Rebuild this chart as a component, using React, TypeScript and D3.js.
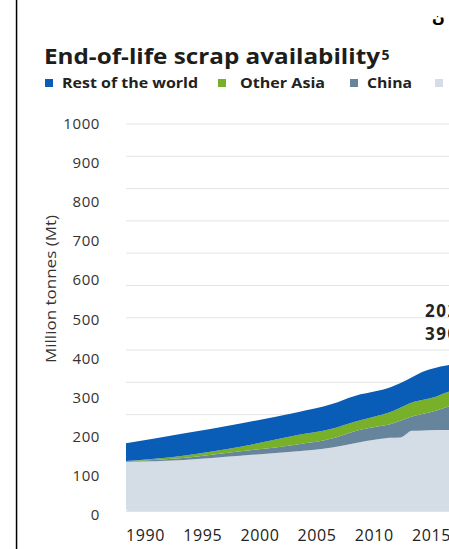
import * as d3 from 'd3'

// end-of-life scrap by region, Mt
const years = [1990, 1995, 2000, 2005, 2008, 2010, 2012, 2013, 2014, 2015, 2016, 2017, 2018, 2019, 2020]
const developed = [128, 133, 144, 155, 165, 176, 186, 190, 191, 208, 209, 210, 210, 211, 212]
const china = [2, 5, 11, 18, 23, 31, 33, 34, 43, 37, 43, 49, 59, 64, 68]
const otherAsia = [0, 6, 12, 24, 25, 24, 28, 31, 34, 36, 36, 36, 38, 38, 38]
const restOfWorld = [46, 57, 60, 59, 64, 67, 64, 64, 63, 65, 73, 75, 69, 70, 72]

const yTicks = [0, 100, 200, 300, 400, 500, 600, 700, 800, 900, 1000]
const xTicks = [1990, 1995, 2000, 2005, 2010, 2015]
const gridSteps = 12

const legendItems = [
  { key: 'rest', label: 'Rest of the world', color: '#0a5db6' },
  { key: 'otherAsia', label: 'Other Asia', color: '#78b02a' },
  { key: 'china', label: 'China', color: '#66849b' },
  { key: 'developed', label: 'Developed world', color: '#d4dce5' },
]

const callout = ['2020', '390 Mt']
const cornerGlyph = 'ن'

const W = 449
const H = 549
const font = "'Open Sans', sans-serif"

export default function App() {
  const x = d3.scaleLinear().domain([1990, 2015]).range([126, 412])
  const y = d3.scaleLinear().domain([0, 1000]).range([511.5, 123.5])
  // tick labels sit a touch lower than the plot scale in the source
  const yLabel = d3.scaleLinear().domain([0, 1000]).range([515, 123.3])
  const grid = d3.scaleLinear().domain([0, gridSteps]).range([511.5, 124])

  const rows = years.map((yr, i) => ({
    year: yr,
    developed: developed[i],
    china: china[i],
    otherAsia: otherAsia[i],
    rest: restOfWorld[i],
  }))
  const keys = ['developed', 'china', 'otherAsia', 'rest']
  const series = d3.stack<any>().keys(keys)(rows)
  const colorOf = (k: string) => legendItems.find((l) => l.key === k)!.color

  const area = d3
    .area<any>()
    .x((d) => x(d.data.year))
    .y0((d) => y(d[0]))
    .y1((d) => y(d[1]))
    .curve(d3.curveMonotoneX)

  // legend layout (source image is slightly stretched horizontally)
  const legendSquareX = [45, 218, 350, 435]
  const legendTextX = [62, 240, 367, 452]
  const legendTextLen = [136, 85, 45, 0]

  return (
    <svg width={W} height={H} style={{ position: 'absolute', left: 0, top: 0 }} fontFamily={font}>
      <rect width={W} height={H} fill="#fff" />
      <rect x={15.8} y={0} width={1.5} height={H} fill="#000" />

      <text x={432} y={23} fontFamily="'DejaVu Sans', sans-serif" fontWeight="bold" fontSize={15} fill="#000">
        {cornerGlyph}
      </text>

      <text x={44} y={64} fontSize={22} fontWeight="bold" fill="#1d1d1b" textLength={336} lengthAdjust="spacingAndGlyphs">
        End-of-life scrap availability
      </text>
      <text x={381.5} y={60} fontSize={14} fontWeight="bold" fill="#1d1d1b">
        5
      </text>

      {legendItems.map((l, i) => (
        <g key={l.key}>
          <rect x={legendSquareX[i]} y={79} width={8} height={8} fill={l.color} />
          <text
            x={legendTextX[i]}
            y={88}
            fontSize={14.5}
            fontWeight="bold"
            fill="#222"
            textLength={legendTextLen[i] || undefined}
            lengthAdjust="spacingAndGlyphs"
          >
            {l.label}
          </text>
        </g>
      ))}

      {d3.range(gridSteps + 1).map((k) => (
        <line key={k} x1={126} x2={W} y1={grid(k)} y2={grid(k)} stroke="#e4e4e4" strokeWidth={1} />
      ))}

      <defs>
        <clipPath id="plotClip">
          <rect x={x(1990)} y={100} width={400} height={y(0) - 100} rx={4} />
        </clipPath>
      </defs>
      <g clipPath="url(#plotClip)">
        {series.map((s) => (
          <path key={s.key} d={area(s) || ''} fill={colorOf(s.key)} />
        ))}
      </g>

      {yTicks.map((t) => (
        <text key={t} x={100} y={yLabel(t)} dy="0.36em" textAnchor="end" fontSize={15} letterSpacing={0.6} fill="#333">
          {t}
        </text>
      ))}

      <text
        transform={`translate(56,289) rotate(-90)`}
        textAnchor="middle"
        fontSize={14.5}
        fill="#333"
        textLength={148}
        lengthAdjust="spacingAndGlyphs"
      >
        Million tonnes (Mt)
      </text>

      {xTicks.map((t) => (
        <text key={t} x={x(t)} y={541} fontSize={16} letterSpacing={0.6} fill="#222">
          {t}
        </text>
      ))}

      {callout.map((c, i) => (
        <text key={c} x={425} y={316.5 + i * 23.5} fontSize={17} letterSpacing={1.5} fontWeight="bold" fill="#222">
          {c}
        </text>
      ))}
    </svg>
  )
}
